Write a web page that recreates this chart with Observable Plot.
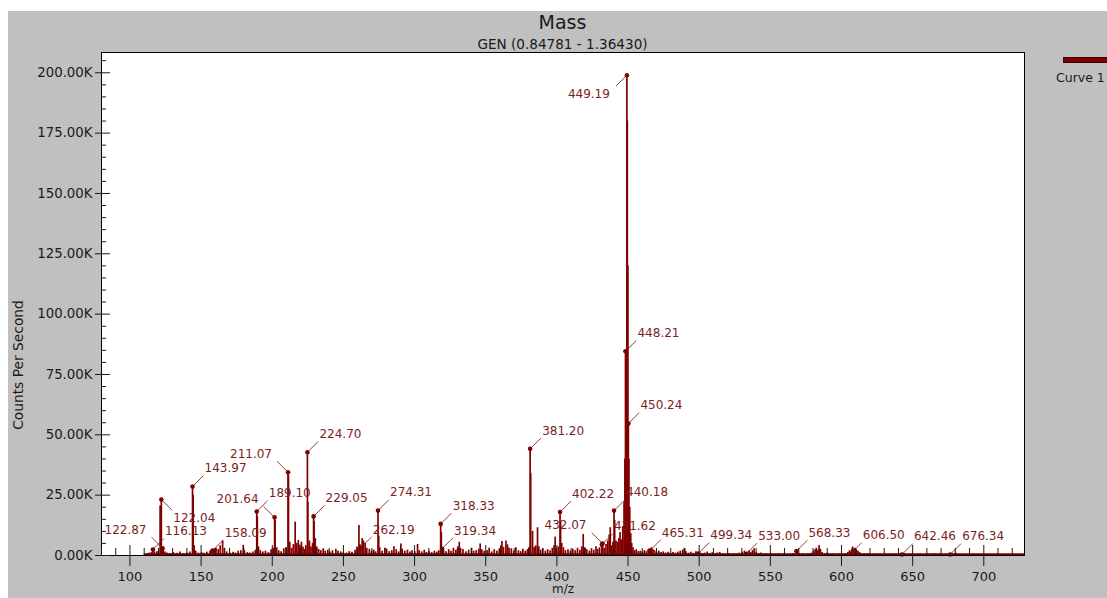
<!DOCTYPE html>
<html>
<head>
<meta charset="utf-8">
<script src="https://cdn.jsdelivr.net/npm/d3@7"></script>
<script src="https://cdn.jsdelivr.net/npm/@observablehq/plot@0.6"></script>
<style>
  html, body { margin: 0; padding: 0; background: #fff; }
  #page { position: relative; width: 1107px; height: 598px; overflow: hidden; font-family: "DejaVu Sans", sans-serif; color: #1a1a1a; }
  #panel { position: absolute; left: 8px; top: 11px; right: 0; bottom: 0; background: #c0c0c0; }
  #chart { position: absolute; left: 0; top: 0; }
  .head { position: absolute; left: 101px; width: 923px; text-align: center; white-space: nowrap; }
  #ylabel { position: absolute; left: 18px; top: 365px; transform: translate(-50%, -50%) rotate(-90deg); font-size: 13.8px; white-space: nowrap; }
  #swatch { position: absolute; left: 1063px; top: 57px; width: 60px; height: 4px; background: #800000; border: 1px solid #3a0000; }
  #curve { position: absolute; left: 1056px; top: 70px; font-size: 12.5px; white-space: nowrap; }
</style>
</head>
<body>
<div id="page">
  <div id="panel"></div>
  <div id="chart"></div>
  <div class="head" style="top:11px;font-size:19px;">Mass</div>
  <div class="head" style="top:36px;font-size:13.6px;">GEN (0.84781 - 1.36430)</div>
  <div id="ylabel">Counts Per Second</div>
  <div id="swatch"></div>
  <div id="curve">Curve 1</div>
</div>
<script>
// Mass spectrum, m/z vs. thousands of counts per second (K).
const scanRange = [110, 728.6];

// Annotated peaks: m/z, height (K) and the side the callout sits on.
const labeledMz     = [116.13, 122.04, 122.87, 143.97, 158.09, 189.10, 201.64, 211.07, 224.70, 229.05,
                       262.19, 274.31, 318.33, 319.34, 381.20, 402.22, 431.62, 432.07, 440.18, 448.21,
                       449.19, 450.24, 465.31, 499.34, 533.00, 568.33, 606.50, 642.46, 676.34];
const labeledCounts = [2.5, 23.2, 3.0, 28.6, 2.0, 18.2, 15.8, 34.5, 42.8, 16.2,
                       3.2, 18.6, 13.1, 2.8, 44.2, 18.0, 4.5, 5.0, 18.6, 84.6,
                       199.0, 54.7, 2.0, 0.8, 0.6, 1.8, 0.8, 0.4, 0.4];
const labeledSide   = ["ne", "se", "nw", "ne", "ne", "ne", "nw", "nw", "ne", "ne",
                       "ne", "ne", "ne", "ne", "ne", "ne", "ne", "nw", "ne", "ne",
                       "sw", "ne", "ne", "ne", "ne", "ne", "ne", "ne", "ne"];

// Remaining (unlabelled) peaks: m/z and height (K).
const peakMz = [112.1, 113.5, 115.0, 117.2, 118.9, 120.1, 121.2, 123.4, 124.6, 126.0, 128.3, 130.5, 133.0, 135.2, 137.8,
  140.1, 142.2, 144.4, 145.1, 146.2, 148.0, 150.3, 152.1, 154.0, 156.2, 157.3, 159.2, 160.5, 162.0, 163.4, 165.1, 166.4,
  168.0, 170.2, 172.5, 174.1, 176.0, 177.9, 179.6, 180.4, 182.5, 184.3, 186.4, 188.1, 189.5, 190.3, 191.6, 193.4, 195.2,
  197.3, 199.2, 200.6, 202.0, 203.1, 204.5, 206.2, 208.1, 209.6, 211.4, 212.3, 213.6, 214.8, 216.1, 217.2, 218.3, 219.4,
  220.5, 221.6, 222.7, 223.6, 225.0, 226.1, 227.2, 228.3, 229.4, 230.2, 231.3, 232.6, 234.1, 235.8, 237.2, 239.0, 240.5,
  242.3, 244.7, 246.2, 248.1, 250.0, 252.3, 254.1, 256.0, 258.2, 259.5, 260.9, 261.6, 263.2, 264.1, 265.3, 266.4, 268.2,
  269.8, 271.3, 272.6, 274.8, 275.5, 277.2, 279.1, 280.4, 282.2, 284.0, 285.5, 287.1, 288.8, 290.4, 291.3, 293.1, 295.0,
  296.8, 298.2, 300.1, 302.1, 303.2, 305.0, 306.8, 308.3, 310.2, 312.0, 313.9, 315.6, 317.0, 318.8, 320.4, 322.1, 324.0,
  325.6, 327.3, 329.0, 330.5, 331.4, 332.3, 334.0, 336.1, 338.0, 340.0, 341.5, 343.3, 345.1, 346.1, 347.3, 349.0, 351.0,
  352.4, 354.2, 356.0, 357.8, 359.5, 360.6, 361.4, 362.5, 364.2, 365.3, 366.4, 368.0, 369.7, 371.2, 373.0, 374.6, 376.1,
  377.8, 379.3, 380.6, 381.6, 382.9, 384.0, 385.2, 386.4, 387.3, 388.6, 390.1, 391.9, 393.5, 395.2, 396.8, 398.0, 398.8,
  399.8, 401.2, 402.6, 403.4, 404.6, 406.0, 407.8, 409.5, 411.2, 412.9, 414.5, 416.2, 417.5, 418.5, 419.5, 421.0, 422.8,
  424.3, 425.9, 427.5, 428.6, 430.0, 433.2, 434.5, 435.8, 436.8, 437.5, 438.6, 439.4, 440.6, 441.5, 442.6, 443.6, 444.4,
  445.4, 446.3, 447.2, 447.8, 448.6, 449.5, 449.9, 450.6, 451.2, 451.9, 452.6, 453.5, 454.6, 455.8, 457.2, 458.6, 460.1,
  461.5, 462.9, 464.2, 465.8, 466.6, 467.5, 468.6, 470.0, 471.6, 473.2, 474.8, 476.5, 478.1, 479.8, 481.5, 483.2, 485.0,
  486.7, 488.4, 489.5, 490.6, 492.4, 494.2, 496.0, 497.7, 500.3, 502.0, 503.8, 505.6, 507.3, 509.1, 510.9, 512.6, 514.4,
  516.2, 518.0, 520.0, 522.0, 524.0, 526.1, 528.1, 530.2, 531.8, 533.6, 535.1, 536.2, 537.4, 538.6, 540.1, 541.8, 543.5,
  545.3, 547.1, 549.0, 551.0, 553.2, 555.3, 557.4, 559.6, 561.8, 564.0, 566.1, 569.2, 570.6, 572.5, 574.6, 576.6, 578.5,
  580.2, 581.4, 582.3, 583.4, 584.3, 585.2, 586.4, 588.0, 590.0, 592.1, 594.2, 596.3, 598.4, 600.6, 602.8, 604.5, 605.6,
  607.2, 607.8, 608.7, 609.6, 610.5, 611.6, 612.8, 614.2, 616.1, 618.2, 620.3, 622.5, 624.7, 627.0, 629.2, 631.5, 633.8,
  636.0, 638.2, 640.4, 644.0, 646.2, 648.5, 650.8, 653.0, 655.3, 657.6, 660.0, 662.4, 664.8, 666.4, 668.8, 671.2, 673.5,
  678.5, 680.2, 682.8, 685.2, 687.6, 690.0, 692.5, 695.0, 697.5, 700.0, 702.6, 705.2, 707.8, 710.4, 713.0, 715.6, 718.2,
  720.8, 723.4, 726.0];
const peakCounts = [0.8, 1.0, 1.2, 1.5, 1.6, 1.8, 20.5, 2.5, 1.5, 1.0, 0.8, 1.2, 0.9, 1.4, 0.8,
  1.0, 1.5, 25.0, 4.0, 1.8, 1.0, 1.2, 0.9, 1.4, 1.8, 2.2, 2.6, 3.0, 2.5, 4.0, 6.0, 3.0,
  1.5, 1.0, 1.3, 1.0, 1.8, 2.0, 4.2, 2.0, 1.2, 1.0, 1.5, 2.2, 16.0, 3.5, 2.0, 1.5, 1.8,
  1.2, 2.4, 3.0, 14.5, 3.2, 2.0, 1.6, 2.8, 3.3, 33.0, 5.5, 3.0, 4.5, 13.8, 5.0, 6.2, 4.2,
  5.5, 3.4, 2.5, 4.0, 22.0, 6.0, 3.5, 5.0, 14.0, 7.0, 3.5, 2.5, 2.0, 2.8, 1.8, 2.2, 1.5,
  2.0, 2.6, 1.8, 1.5, 1.2, 1.0, 1.6, 1.3, 2.2, 3.5, 12.4, 4.5, 7.0, 6.0, 5.0, 3.0, 2.6,
  1.8, 2.2, 1.5, 8.0, 3.2, 1.8, 3.0, 2.4, 1.6, 2.0, 3.6, 2.4, 1.5, 4.8, 2.6, 1.8, 2.2,
  1.4, 2.0, 1.6, 4.6, 2.0, 1.5, 2.2, 1.3, 1.6, 1.2, 1.8, 1.4, 2.0, 9.5, 2.0, 1.6, 2.4,
  1.8, 3.0, 2.2, 3.6, 5.5, 3.0, 2.5, 1.6, 2.2, 3.0, 1.8, 2.0, 2.6, 4.8, 2.4, 1.8, 2.0,
  3.0, 1.5, 2.4, 1.8, 2.6, 4.0, 5.8, 3.4, 6.0, 4.4, 3.0, 2.8, 1.8, 3.2, 2.0, 1.6, 2.6,
  1.8, 2.4, 3.4, 34.0, 10.0, 3.4, 4.0, 11.5, 3.6, 2.2, 2.8, 1.8, 2.4, 2.0, 3.0, 4.0, 7.6,
  3.0, 3.6, 14.0, 5.0, 3.2, 2.0, 2.4, 1.8, 2.6, 2.0, 3.0, 2.2, 3.6, 8.7, 3.2, 2.4, 1.8,
  2.8, 2.2, 3.6, 2.6, 3.2, 3.0, 4.6, 6.0, 8.5, 11.5, 4.0, 5.5, 14.5, 6.0, 5.5, 7.0, 9.5,
  6.5, 12.0, 22.0, 40.0, 70.0, 180.0, 120.0, 40.0, 20.0, 9.0, 5.0, 3.2, 2.0, 2.4, 1.6, 1.8, 1.4,
  2.0, 1.6, 2.5, 2.8, 3.2, 2.4, 2.0, 1.4, 1.8, 1.2, 1.5, 1.0, 1.3, 0.9, 1.2, 1.0, 1.4,
  1.8, 2.2, 2.8, 1.6, 1.0, 1.3, 0.9, 1.6, 1.2, 0.8, 1.0, 1.4, 0.8, 1.1, 0.7, 1.0, 1.3,
  0.8, 0.6, 0.9, 0.6, 0.8, 0.7, 1.0, 1.3, 1.8, 1.5, 2.0, 1.2, 2.0, 2.8, 1.2, 0.8, 1.0,
  0.6, 0.8, 0.5, 0.7, 0.5, 0.8, 0.5, 0.7, 0.4, 0.6, 0.8, 1.2, 0.6, 0.8, 0.5, 0.7, 0.9,
  1.6, 2.4, 3.0, 2.2, 4.1, 2.6, 1.2, 0.8, 1.0, 0.6, 0.8, 0.5, 0.7, 0.5, 0.8, 1.2, 2.0,
  2.6, 3.5, 2.8, 3.0, 2.4, 1.8, 1.2, 0.8, 0.6, 0.8, 0.5, 0.7, 0.5, 0.6, 0.4, 0.6, 0.5,
  0.7, 0.5, 0.6, 0.8, 0.5, 0.6, 0.4, 0.5, 0.6, 0.4, 0.5, 0.6, 0.8, 0.5, 0.7, 0.4, 0.5,
  0.6, 1.0, 0.5, 0.6, 0.4, 0.5, 0.6, 0.4, 0.5, 0.4, 0.5, 0.3, 0.4, 0.3, 0.4, 0.3, 0.4,
  0.3, 0.3, 0.3];

// Axis ticks.
const xMajorTicks = [100, 150, 200, 250, 300, 350, 400, 450, 500, 550, 600, 650, 700];
const yMajorTicks = [0, 25, 50, 75, 100, 125, 150, 175, 200];

const maroon = "#800000";
const labelInk = "#7a1e1e";

const sticks = [
  ...peakMz.map((mz, i) => ({mz, k: peakCounts[i]})),
  ...labeledMz.map((mz, i) => ({mz, k: labeledCounts[i]}))
];
const callouts = labeledMz.map((mz, i) => ({mz, k: labeledCounts[i], side: labeledSide[i]}));
const angleOf = {ne: 45, nw: -45, se: 135, sw: 225};

const xMinor = d3.range(80, 729, 10).filter(v => v % 50 !== 0);
const yMinor = d3.range(5, 208, 5).filter(v => v % 25 !== 0);

// Callout leader: a plain segment starting just off the peak marker.
const leader = {draw(ctx, l) { ctx.moveTo(0, -2); ctx.lineTo(0, -l); }};

const calloutText = (side, dx, dy, anchor) =>
  Plot.text(callouts.filter(d => d.side === side), {
    x: "mz", y: "k", text: d => d.mz.toFixed(2),
    dx, dy, textAnchor: anchor, fill: labelInk, fontSize: 12
  });

const chart = Plot.plot({
  width: 1107,
  height: 598,
  marginLeft: 101,
  marginRight: 83,
  marginTop: 52,
  marginBottom: 43,
  style: {background: "transparent", fontFamily: "DejaVu Sans, sans-serif", color: "#1a1a1a", overflow: "visible"},
  x: {domain: [80, 728.6]},
  y: {domain: [0, 208.4]},
  marks: [
    Plot.frame({fill: "white"}),
    Plot.ruleY([0], {x1: scanRange[0], x2: scanRange[1], stroke: maroon, strokeWidth: 2.5, dy: -1}),
    Plot.ruleX(sticks, {x: "mz", y1: 0, y2: "k", stroke: maroon, strokeWidth: 1.7}),
    Plot.vector(callouts, {x: "mz", y: "k", rotate: d => angleOf[d.side], length: 15, anchor: "start",
      shape: leader, stroke: labelInk, strokeWidth: 0.8}),
    Plot.dot(callouts, {x: "mz", y: "k", r: 2.3, fill: maroon}),
    calloutText("ne", 12, -18, "start"),
    calloutText("se", 12, 19, "start"),
    calloutText("nw", -16, -18, "end"),
    calloutText("sw", -17, 19, "end"),
    Plot.frame({stroke: "black"}),
    Plot.axisX({ticks: xMajorTicks, tickSize: 11, tickPadding: 5, fontSize: 13, tickFormat: d => String(d), label: null}),
    Plot.axisX({ticks: xMajorTicks, tickSize: -10, tickFormat: () => "", label: null}),
    Plot.axisX({ticks: xMinor, tickSize: -7, tickFormat: () => "", label: null}),
    Plot.axisY({ticks: yMajorTicks, tickSize: 6, tickPadding: 3, fontSize: 13.3, tickFormat: d => d.toFixed(2) + "K", label: null}),
    Plot.axisY({ticks: yMajorTicks, tickSize: -9, tickFormat: () => "", label: null}),
    Plot.axisY({ticks: yMinor, tickSize: -5, tickFormat: () => "", label: null}),
    Plot.text(["m/z"], {frameAnchor: "bottom", dy: 37, fontSize: 12, fill: "#1a1a1a"})
  ]
});

document.getElementById("chart").appendChild(chart);
</script>
</body>
</html>
